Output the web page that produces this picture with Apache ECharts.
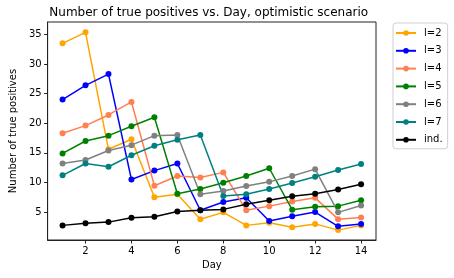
<!DOCTYPE html>
<html>
<head>
<meta charset="utf-8">
<script src="https://cdn.jsdelivr.net/npm/echarts@6/dist/echarts.min.js"></script>
<style>html,body{margin:0;padding:0;background:#fff;}#c{width:454px;height:278px;}</style>
</head>
<body>
<div id="c"></div>
<script>
const days = [1,2,3,4,5,6,7,8,9,10,11,12,13,14];
const l2 = [33.5, 35.35, 15.6, 17.3, 7.5, 8.0, 3.8, 4.95, 2.75, 3.2, 2.45, 3.0, 1.95, 2.75];
const l3 = [24.0, 26.4, 28.3, 10.5, 12.0, 13.2, 5.3, 6.7, 7.4, 3.5, 4.3, 5.0, 2.6, 3.0];
const l4 = [18.3, 19.6, 21.4, 23.6, 9.45, 11.1, 10.85, 11.7, 5.3, 6.0, 6.8, 7.4, 3.8, 4.1];
const l5 = [14.9, 17.0, 17.9, 19.5, 21.0, 8.1, 8.9, 9.95, 11.1, 12.4, 5.4, 5.9, 6.0, 7.0];
const l6 = [13.2, 13.8, 15.4, 16.3, 17.9, 18.0, 8.0, 8.55, 9.4, 10.1, 11.1, 12.25, 4.95, 6.1];
const l7 = [11.2, 13.2, 12.65, 14.6, 16.2, 17.2, 18.0, 7.7, 8.0, 8.9, 9.9, 10.95, 12.1, 13.1];
const ind = [2.75, 3.1, 3.3, 4.05, 4.2, 5.1, 5.3, 5.45, 6.3, 7.0, 7.65, 8.1, 8.8, 9.7];
const xTicks = [2,4,6,8,10,12,14];
const yTicks = [5,10,15,20,25,30,35];
const seriesNames = ['l=2','l=3','l=4','l=5','l=6','l=7','ind.'];
const seriesData = [l2,l3,l4,l5,l6,l7,ind];
const colors = ['#FFA500','#0000FF','#FF7F50','#008000','#808080','#008080','#000000'];

const FONT = 'DejaVu Sans';
const chart = echarts.init(document.getElementById('c'), null, {renderer:'canvas'});
chart.setOption({
  animation: false,
  backgroundColor: '#fff',
  color: colors,
  title: {
    text: 'Number of true positives vs. Day, optimistic scenario',
    left: 208.7, top: 7, padding: 0, textAlign: 'center',
    textStyle: {fontFamily: FONT, fontSize: 12, fontWeight: 'normal', color: '#000'}
  },
  legend: {
    orient: 'vertical', left: 393, top: 23,
    padding: [5, 5, 4, 2],
    itemWidth: 20, itemHeight: 7, itemGap: 7.8,
    borderColor: '#d0d0d0', borderWidth: 1, borderRadius: 3,
    textStyle: {fontFamily: FONT, fontSize: 10, color: '#000', padding: [0,0,0,3]},
    data: seriesNames
  },
  grid: {left: 41.5, right: 78, top: 22, bottom: 38, show: true, borderColor: '#222', borderWidth: 1},
  xAxis: {
    type: 'value', min: 0.35, max: 14.65,
    name: 'Day', nameLocation: 'middle', nameGap: 20,
    nameTextStyle: {fontFamily: FONT, fontSize: 10, color: '#000'},
    axisLine: {show: true, lineStyle: {color: '#222', width: 1}},
    axisTick: {show: true, length: 3.5, customValues: xTicks, lineStyle: {color: '#222'}},
    axisLabel: {customValues: xTicks, margin: 6, fontFamily: FONT, fontSize: 10, color: '#000'},
    splitLine: {show: false}
  },
  yAxis: {
    type: 'value', min: 0.28, max: 37.1,
    name: 'Number of true positives', nameLocation: 'middle', nameGap: 26,
    nameTextStyle: {fontFamily: FONT, fontSize: 10, color: '#000'},
    axisLine: {show: true, lineStyle: {color: '#222', width: 1}},
    axisTick: {show: true, length: 3.5, customValues: yTicks, lineStyle: {color: '#222'}},
    axisLabel: {customValues: yTicks, margin: 6, fontFamily: FONT, fontSize: 10, color: '#000'},
    splitLine: {show: false}
  },
  series: seriesNames.map((n, i) => ({
    name: n, type: 'line',
    data: days.map((d, j) => [d, seriesData[i][j]]),
    symbol: 'circle', symbolSize: 6, showSymbol: true,
    lineStyle: {width: 1.5, color: colors[i]},
    itemStyle: {color: colors[i]},
    emphasis: {disabled: true}
  }))
});
</script>
</body>
</html>
